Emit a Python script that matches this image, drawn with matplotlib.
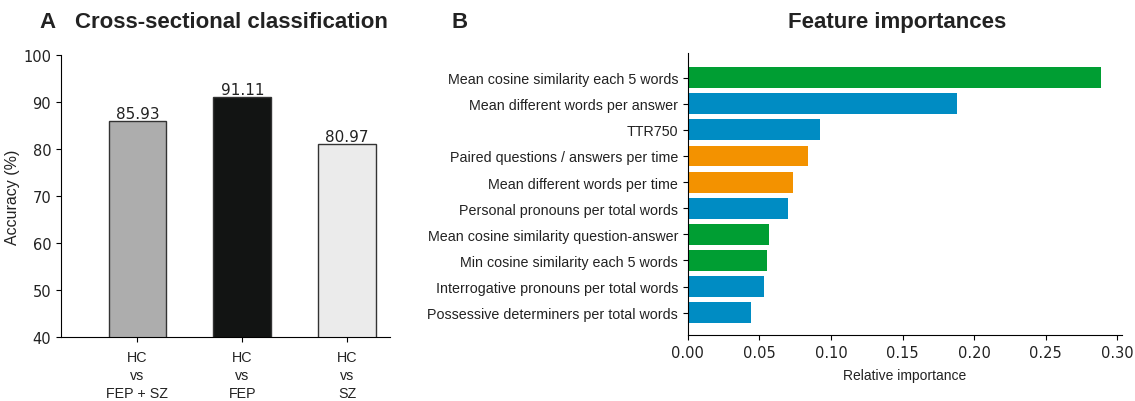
import numpy as np
import matplotlib
matplotlib.use("Agg")
import matplotlib.pyplot as plt

# Panel A data
comparisons = ["HC\nvs\nFEP + SZ", "HC\nvs\nFEP", "HC\nvs\nSZ"]
accuracy = [85.93, 91.11, 80.97]
acc_colors = ["#adadad", "#121413", "#ebebeb"]

# Panel B data (top to bottom)
features = [
    "Mean cosine similarity each 5 words",
    "Mean different words per answer",
    "TTR750",
    "Paired questions / answers per time",
    "Mean different words per time",
    "Personal pronouns per total words",
    "Mean cosine similarity question-answer",
    "Min cosine similarity each 5 words",
    "Interrogative pronouns per total words",
    "Possessive determiners per total words",
]
importance = [0.2886, 0.1879, 0.0921, 0.0837, 0.0732, 0.0697, 0.0564, 0.0550, 0.0529, 0.0438]
feat_group = ["sem", "lex", "lex", "flu", "flu", "lex", "sem", "sem", "lex", "lex"]
group_colors = {"sem": "#009e33", "lex": "#008cc3", "flu": "#f39200"}

ARIAL = "Liberation Sans"
txt = "#222222"

fig = plt.figure(figsize=(11.35, 4.02), dpi=100)

# ---- Panel A ----
axA = fig.add_axes([0.0537, 0.159, 0.29, 0.702])
x = np.arange(len(accuracy))
axA.bar(x, accuracy, width=0.55, color=acc_colors, edgecolor="#333333", linewidth=1.0)
for xi, v in zip(x, accuracy):
    axA.text(xi, v, f"{v:.2f}", ha="center", va="bottom", fontsize=11, color=txt)
axA.set_ylim(40, 100)
axA.set_xlim(-0.73, 2.41)
axA.set_yticks(range(40, 101, 10))
axA.set_xticks(x)
axA.set_xticklabels(comparisons, fontfamily=ARIAL, fontsize=10.3, color=txt, linespacing=1.35)
axA.tick_params(axis="x", pad=6)
axA.tick_params(axis="y", labelsize=10.5, labelcolor=txt)
axA.set_ylabel("Accuracy (%)", fontfamily=ARIAL, fontsize=11.5, color=txt, labelpad=2)
for s in ["top", "right"]:
    axA.spines[s].set_visible(False)
fig.text(0.035, 0.945, "A", fontfamily=ARIAL, fontweight="bold", fontsize=16, color=txt, va="center")
fig.text(0.066, 0.945, "Cross-sectional classification", fontfamily=ARIAL, fontweight="bold",
         fontsize=16, color=txt, va="center")

# ---- Panel B ----
axB = fig.add_axes([0.606, 0.164, 0.3825, 0.702])
y = np.arange(len(features))
axB.barh(y, importance, height=0.8, color=[group_colors[g] for g in feat_group])
axB.set_ylim(len(features) - 1 + 0.86, -0.95)
axB.set_xlim(0, 0.3033)
axB.set_yticks(y)
axB.set_yticklabels(features, fontfamily=ARIAL, fontsize=10.3, color=txt)
axB.set_xticks(np.arange(0, 0.31, 0.05))
axB.set_xticklabels([f"{t:.2f}" for t in np.arange(0, 0.31, 0.05)])
axB.tick_params(axis="x", labelsize=10.5, labelcolor=txt)
axB.set_xlabel("Relative importance", fontfamily=ARIAL, fontsize=10, color=txt, labelpad=6)
for s in ["top", "right"]:
    axB.spines[s].set_visible(False)
fig.text(0.398, 0.945, "B", fontfamily=ARIAL, fontweight="bold", fontsize=16, color=txt, va="center")
fig.text(0.790, 0.945, "Feature importances", fontfamily=ARIAL, fontweight="bold",
         fontsize=16, color=txt, va="center", ha="center")

fig.savefig("out.png", dpi=100)
